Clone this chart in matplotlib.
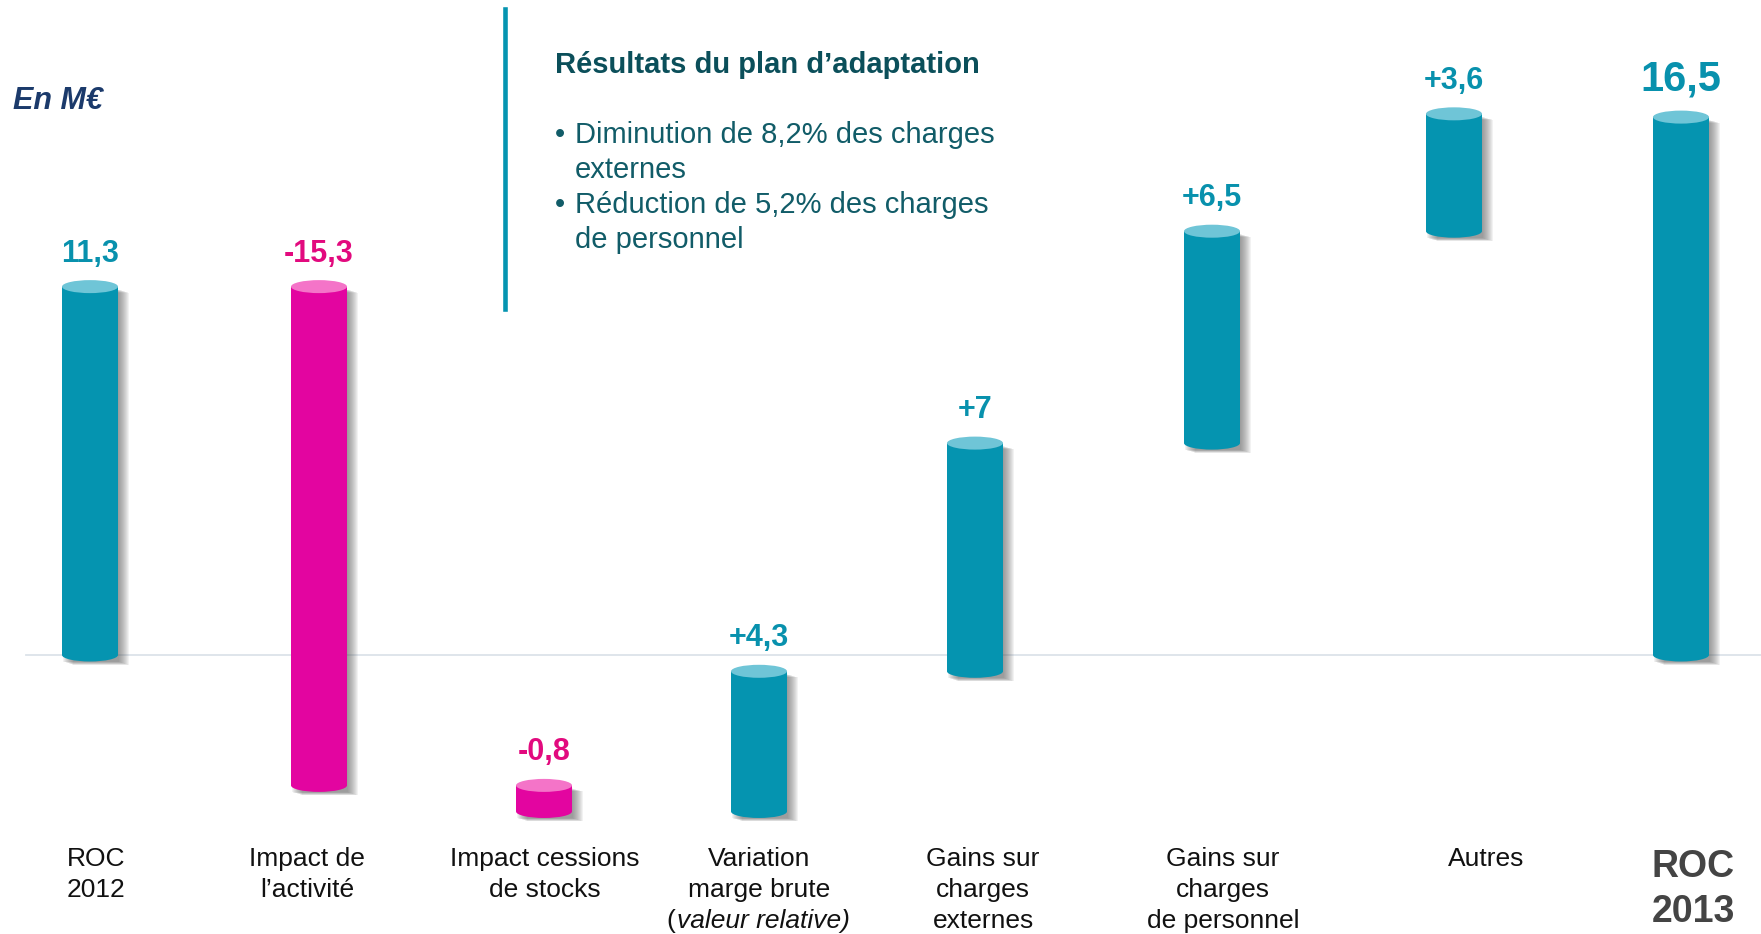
import matplotlib
matplotlib.use("Agg")
import matplotlib.pyplot as plt
import matplotlib.transforms as mtransforms
from matplotlib.patches import Rectangle, Ellipse

# ---------------- data ----------------
categories = [
    ["ROC", "2012"],
    ["Impact de", "l’activité"],
    ["Impact cessions", "de stocks"],
    ["Variation", "marge brute", "(valeur relative)"],
    ["Gains sur", "charges", "externes"],
    ["Gains sur", "charges", "de personnel"],
    ["Autres"],
    ["ROC", "2013"],
]
values = [11.3, -15.3, -0.8, 4.3, 7.0, 6.5, 3.6, 16.5]
value_labels = ["11,3", "-15,3", "-0,8", "+4,3", "+7", "+6,5", "+3,6", "16,5"]
kinds = ["total", "delta", "delta", "delta", "delta", "delta", "delta", "total"]

box_title = "Résultats du plan d’adaptation"
box_lines = [("•", "Diminution de 8,2% des charges"), ("", "externes"),
             ("•", "Réduction de 5,2% des charges"), ("", "de personnel")]
unit_label = "En M€"

# ---------------- layout / style ----------------
W, H = 1761, 934
bar_px = [90, 319, 544, 759, 975, 1212, 1454, 1681]
label_px = [96, 307, 545, 759, 983, 1223, 1486, 1693]
SPX = 227.3          # px per x unit
SPY = 32.6           # px per y unit
ZERO_PX = 655

TEAL = "#0594B0"
TEAL_TOP = "#6FC5D7"
PINK = "#E305A0"
PINK_TOP = "#F474C8"
TEAL_TXT = "#0891AD"
PINK_TXT = "#E20A7E"
FONT = "Liberation Sans"

fig = plt.figure(figsize=(W / 100, H / 100), dpi=100)
ax = fig.add_axes([0, 0, 1, 1])
x_pos = [(p - bar_px[0]) / SPX for p in bar_px]
ax.set_xlim(-bar_px[0] / SPX, (W - bar_px[0]) / SPX)
ax.set_ylim(-(H - ZERO_PX) / SPY, ZERO_PX / SPY)
ax.axis("off")
px_x, px_y = 1 / SPX, 1 / SPY
T = mtransforms.Affine2D().scale(1 / W, -1 / H).translate(0, 1) + fig.transFigure

# zero line
ax.axhline(0, xmin=26 / W, xmax=1, color="#DCE3E9", lw=1.3, zorder=1)

# waterfall
run = 0.0
segments = []
for v, k in zip(values, kinds):
    if k == "total":
        s, e = 0.0, v
        run = v
    else:
        s, e = run, run + v
        run += v
    segments.append((s, e))


def cylinder(x, y0, y1, body, topc):
    lo, hi = min(y0, y1), max(y0, y1)
    w = 56 * px_x
    eh = 13 * px_y
    for i in range(1, 12):
        ax.add_patch(Rectangle((x - w / 2 + i * px_x, lo - eh * 0.5 - i * 0.3 * px_y),
                               w, hi - lo + eh * 0.3, color="#5a5a5a", alpha=0.075,
                               lw=0, zorder=2))
    ax.add_patch(Rectangle((x - w / 2, lo), w, hi - lo, color=body, lw=0, zorder=3))
    ax.add_patch(Ellipse((x, lo), w, eh, color=body, lw=0, zorder=3))
    ax.add_patch(Ellipse((x, hi), w, eh, color=topc, lw=0, zorder=4))
    return hi


for i, ((s, e), v, lab) in enumerate(zip(segments, values, value_labels)):
    neg = v < 0
    hi = cylinder(x_pos[i], s, e, PINK if neg else TEAL, PINK_TOP if neg else TEAL_TOP)
    big = i == len(values) - 1
    ax.text(x_pos[i], hi + (27 if big else 25) * px_y, lab, ha="center", va="baseline",
            fontsize=30 if big else 22, fontweight="bold",
            color=PINK_TXT if neg else TEAL_TXT, family=FONT, zorder=5)

# category labels
fig.canvas.draw()
renderer = fig.canvas.get_renderer()
for i, lines in enumerate(categories):
    last = i == len(categories) - 1
    for j, line in enumerate(lines):
        if last:
            fig.text(label_px[i], 877 + 45 * j, line, transform=T, ha="center",
                     va="baseline", fontsize=27, fontweight="bold", color="#444444",
                     family=FONT)
        elif line.startswith("(") and j == 2:
            t = fig.text(label_px[i] + 4, 866 + 31 * j, line[1:], transform=T,
                         ha="center", va="baseline", fontsize=19, style="italic",
                         color="#111111", family=FONT)
            bb = t.get_window_extent(renderer)
            fig.text(bb.x0 - 1, H - (866 + 31 * j), "(", ha="right", va="baseline",
                     fontsize=19, color="#111111", family=FONT,
                     transform=mtransforms.IdentityTransform())
        else:
            fig.text(label_px[i], 866 + 31 * j, line, transform=T, ha="center",
                     va="baseline", fontsize=19, color="#111111", family=FONT)

# unit label
fig.text(13, 109, unit_label, transform=T, ha="left", va="baseline", fontsize=22,
         fontweight="bold", style="italic", color="#1B3A6B", family=FONT)

# info box
fig.add_artist(plt.Line2D([505 / W, 505 / W], [1 - 9 / H, 1 - 309 / H],
                          transform=fig.transFigure, color=TEAL, lw=3.3))
fig.text(555, 73, box_title, transform=T, ha="left", va="baseline", fontsize=21,
         fontweight="bold", color="#0B4F5A", family=FONT)
for k, (b, line) in enumerate(box_lines):
    yb = 143 + 35 * k
    if b:
        fig.text(555, yb, b, transform=T, ha="left", va="baseline", fontsize=21,
                 color="#115C68", family=FONT)
    fig.text(575, yb, line, transform=T, ha="left", va="baseline", fontsize=21,
             color="#115C68", family=FONT)

fig.savefig("out.png", dpi=100)
